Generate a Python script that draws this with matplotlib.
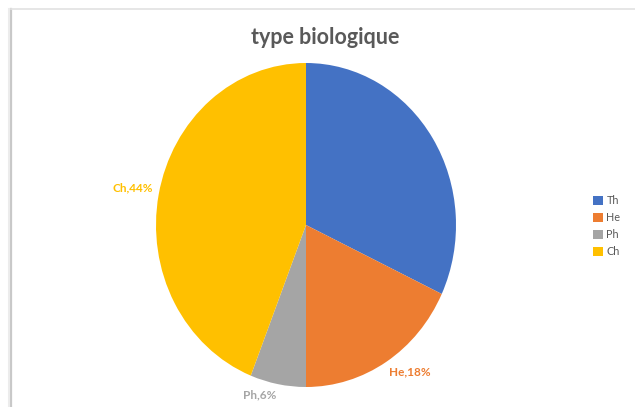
import numpy as np
import matplotlib
matplotlib.use("Agg")
import matplotlib.pyplot as plt
from matplotlib.lines import Line2D
from matplotlib.patches import Patch

# data
categories = ["Th", "He", "Ph", "Ch"]
shares = [32, 18, 6, 44]
colors = ["#4472C4", "#ED7D31", "#A5A5A5", "#FFC000"]
show_label = [False, True, True, True]
title = "type biologique"

W, H = 635, 407
fig = plt.figure(figsize=(W / 100, H / 100), dpi=100)
plt.rcParams["font.family"] = ["Lato", "DejaVu Sans"]

# chart frame (Excel style border with shadow)
fig.add_artist(Line2D([11 / W, 11 / W], [0, 1 - 9 / H], transform=fig.transFigure,
                      color="#c8c8c8", lw=1.6))
fig.add_artist(Line2D([9 / W, 9 / W], [0, 1 - 9 / H], transform=fig.transFigure,
                      color="#ececec", lw=1.5))
fig.add_artist(Line2D([11 / W, 1], [1 - 9 / H, 1 - 9 / H], transform=fig.transFigure,
                      color="#e2e2e2", lw=1.2))

# pie is slightly squeezed in the reference: center (306, 225), rx 150, ry 162 px
cx, cy, rx, ry = 306, 225, 150, 162
ax = fig.add_axes([(cx - rx) / W, (H - cy - ry) / H, 2 * rx / W, 2 * ry / H])
wedges, _ = ax.pie(shares, colors=colors, startangle=90, counterclock=False,
                   radius=1, wedgeprops=dict(linewidth=0))
ax.set_xlim(-1, 1)
ax.set_ylim(-1, 1)
ax.set_aspect("auto")
ax.axis("off")

# data labels at the outside end, Excel style
total = sum(shares)
for w, cat, val, col, show in zip(wedges, categories, shares, colors, show_label):
    if not show:
        continue
    ang = np.deg2rad((w.theta1 + w.theta2) / 2)
    c, s = np.cos(ang), np.sin(ang)
    ax.annotate(f"{cat},{round(100 * val / total)}%", xy=(c, s),
                xytext=(4 * c, 4 * s), textcoords="offset points",
                ha="left" if c > 0 else "right",
                va="top" if s < 0 else "bottom",
                color=col, fontsize=8.5, fontweight="bold",
                annotation_clip=False)

fig.text(325 / W, 1 - 38 / H, title, ha="center", va="center",
         fontsize=15.5, fontweight="bold", color="#595959")

handles = [Patch(facecolor=c, edgecolor="none") for c in colors]
fig.legend(handles, categories, loc="center left",
           bbox_to_anchor=(588 / W, 1 - 226 / H), frameon=False,
           fontsize=7.8, labelcolor="#595959", handlelength=0.9,
           handleheight=0.9, handletextpad=0.3, labelspacing=0.55,
           borderpad=0)

fig.savefig("out.png", dpi=100, facecolor="white")
